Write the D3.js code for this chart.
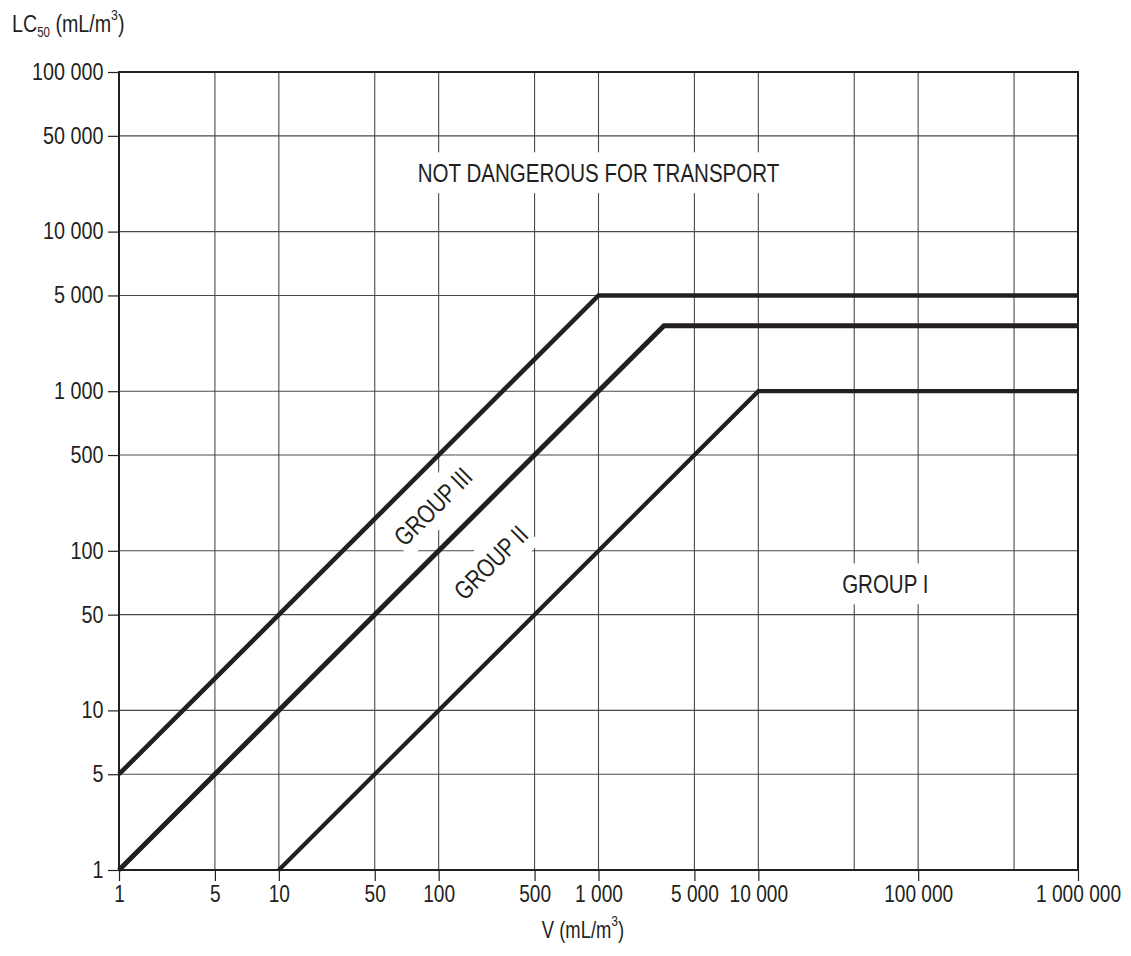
<!DOCTYPE html>
<html>
<head>
<meta charset="utf-8">
<script src="https://cdn.jsdelivr.net/npm/d3@7"></script>
<style>
  body { margin: 0; background: #fff; }
  svg text { font-family: "Liberation Sans", Arial, sans-serif; fill: #231f20; }
</style>
</head>
<body>
<div id="chart"></div>
<script>
// grid values on each axis and their labels ("" = grid line without label)
const xGrid = [1, 5, 10, 50, 100, 500, 1000, 5000, 10000, 50000, 100000, 500000, 1000000];
const xLabels = ["1", "5", "10", "50", "100", "500", "1 000", "5 000", "10 000", "", "100 000", "", "1 000 000"];
const yGrid = [1, 5, 10, 50, 100, 500, 1000, 5000, 10000, 50000, 100000];
const yLabels = ["1", "5", "10", "50", "100", "500", "1 000", "5 000", "10 000", "50 000", "100 000"];

// group boundary lines as [V, LC50] corner points
const group3Line = [[1, 5], [1000, 5000], [1000000, 5000]];
const group2Line = [[1, 1], [3000, 3000], [1000000, 3000]];
const group1Line = [[10, 1], [10000, 1000], [1000000, 1000]];

// region labels: text, V, LC50, rotation
const regionText = ["NOT DANGEROUS FOR TRANSPORT", "GROUP III", "GROUP II", "GROUP I"];
const regionV = [1000, 94, 240, 70000];
const regionLC = [27000, 210, 88, 70];
const regionAngle = [0, -45, -45, 0];

const W = 1131, H = 956;
const plotL = 119, plotR = 1078, plotT = 72, plotB = 870;
const ink = "#231f20";
const narrow = 0.78; // the original lettering is a condensed face

// the drawing puts the "5" grid line at 0.6 of a decade
function decadePos(v) {
    const e = Math.floor(Math.log10(v) + 1e-9);
    return e + (v / Math.pow(10, e) >= 4.99 ? 0.6 : 0);
}

const xPx = d3.scaleLinear().domain([0, 6]).range([plotL, plotR]);
const yPx = d3.scaleLinear().domain([0, 5]).range([plotB, plotT]);

// piecewise scales on log10 values
const xLog = d3.scaleLinear()
    .domain(xGrid.map(Math.log10))
    .range(xGrid.map(v => xPx(decadePos(v))));
const yLog = d3.scaleLinear()
    .domain(yGrid.map(Math.log10))
    .range(yGrid.map(v => yPx(decadePos(v))));

const X = v => xLog(Math.log10(v));
const Y = v => yLog(Math.log10(v));

const svg = d3.select("#chart").append("svg")
    .attr("width", W)
    .attr("height", H);

// grid
svg.append("g").selectAll("line")
    .data(xGrid.slice(1, -1))
    .enter().append("line")
    .attr("x1", d => X(d)).attr("x2", d => X(d))
    .attr("y1", plotT).attr("y2", plotB)
    .attr("stroke", "#4a4a4a").attr("stroke-width", 1.1);

svg.append("g").selectAll("line")
    .data(yGrid.slice(1, -1))
    .enter().append("line")
    .attr("y1", d => Y(d)).attr("y2", d => Y(d))
    .attr("x1", plotL).attr("x2", plotR)
    .attr("stroke", "#4a4a4a").attr("stroke-width", 1.1);

// axes (ticks only on labelled values)
const xTickVals = xGrid.filter((d, i) => xLabels[i] !== "").map(Math.log10);
const yTickVals = yGrid.map(Math.log10);

const xAxis = svg.append("g")
    .attr("transform", `translate(0,${plotB})`)
    .call(d3.axisBottom(xLog)
        .tickValues(xTickVals)
        .tickSize(11)
        .tickSizeOuter(0)
        .tickPadding(4)
        .tickFormat(d => xLabels[xGrid.findIndex(v => Math.abs(Math.log10(v) - d) < 1e-9)]));
xAxis.select(".domain").remove();
xAxis.selectAll("line").attr("stroke", ink).attr("stroke-width", 1.2);
xAxis.selectAll("text")
    .style("font-size", "24.5px")
    .attr("fill", ink)
    .attr("transform", `scale(${narrow},1)`);

const yAxis = svg.append("g")
    .attr("transform", `translate(${plotL},0)`)
    .call(d3.axisLeft(yLog)
        .tickValues(yTickVals)
        .tickSize(11)
        .tickSizeOuter(0)
        .tickPadding(7)
        .tickFormat((d, i) => yLabels[i]));
yAxis.select(".domain").remove();
yAxis.selectAll("line").attr("stroke", ink).attr("stroke-width", 1.2);
yAxis.selectAll("text")
    .style("font-size", "23px")
    .attr("fill", ink)
    .attr("transform", "scale(0.86,1)");

// frame
svg.append("rect")
    .attr("x", plotL).attr("y", plotT)
    .attr("width", plotR - plotL).attr("height", plotB - plotT)
    .attr("fill", "none")
    .attr("stroke", ink)
    .attr("stroke-width", 2);

// group boundaries
const line = d3.line().x(d => X(d[0])).y(d => Y(d[1]));
[[group3Line, 4.6], [group2Line, 5], [group1Line, 4.2]].forEach(([pts, w]) => {
    svg.append("path")
        .attr("d", line(pts))
        .attr("fill", "none")
        .attr("stroke", ink)
        .attr("stroke-width", w)
        .attr("stroke-linejoin", "miter");
});

// region labels with white backing
regionText.forEach((t, i) => {
    const g = svg.append("g")
        .attr("transform", `translate(${X(regionV[i])},${Y(regionLC[i])}) rotate(${regionAngle[i]}) scale(0.79,1)`);
    const bg = g.append("rect").attr("fill", "#fff");
    const txt = g.append("text")
        .attr("text-anchor", "middle")
        .attr("dy", "0.35em")
        .style("font-size", "26px")
        .text(t);
    const b = txt.node().getBBox();
    bg.attr("x", b.x - 4).attr("y", b.y - 6)
        .attr("width", b.width + 8).attr("height", b.height + 12);
});

// axis titles
const yTitle = svg.append("text")
    .attr("transform", `translate(12,32) scale(0.82,1)`)
    .style("font-size", "24px");
yTitle.append("tspan").text("LC");
yTitle.append("tspan").attr("dy", 5).style("font-size", "14px").text("50");
yTitle.append("tspan").attr("dy", -5).text(" (mL/m");
yTitle.append("tspan").attr("dy", -12).style("font-size", "15px").text("3");
yTitle.append("tspan").attr("dy", 12).text(")");

const xTitle = svg.append("text")
    .attr("transform", `translate(583,938) scale(0.8,1)`)
    .attr("text-anchor", "middle")
    .style("font-size", "23px");
xTitle.append("tspan").text("V (mL/m");
xTitle.append("tspan").attr("dy", -12).style("font-size", "15px").text("3");
xTitle.append("tspan").attr("dy", 12).text(")");
</script>
</body>
</html>
